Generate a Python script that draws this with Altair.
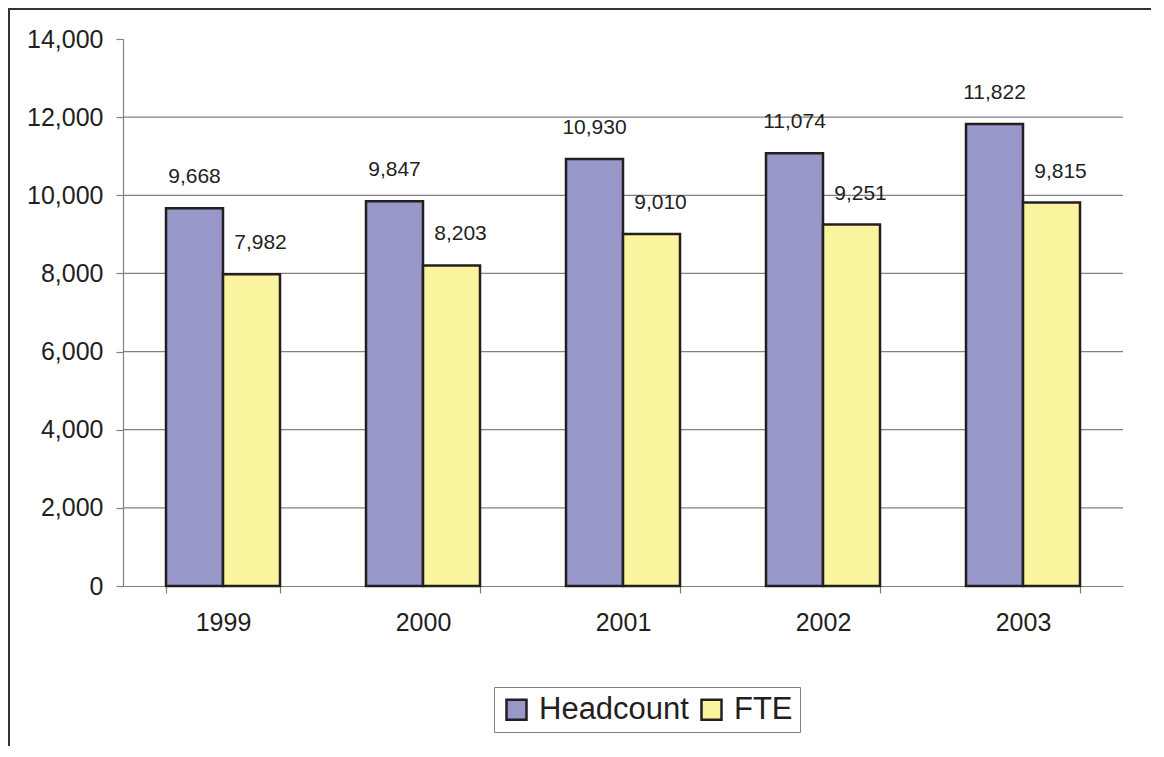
import altair as alt
import pandas as pd

years = ["1999", "2000", "2001", "2002", "2003"]
headcount = [9668, 9847, 10930, 11074, 11822]
fte = [7982, 8203, 9010, 9251, 9815]
series_names = ["Headcount", "FTE"]
series_colors = ["#9797C9", "#FAF49E"]
y_ticks = [0, 2000, 4000, 6000, 8000, 10000, 12000, 14000]
grid_values = [2000, 4000, 6000, 8000, 10000, 12000]

rows = []
for i, y in enumerate(years):
    rows.append({"year": y, "series": "Headcount", "value": headcount[i]})
    rows.append({"year": y, "series": "FTE", "value": fte[i]})
df = pd.DataFrame(rows)

FONT = "Liberation Sans"
INK = "#231F20"

x_enc = alt.X("year:N", sort=years,
              scale=alt.Scale(paddingInner=0.43, paddingOuter=0.215),
              axis=alt.Axis(title=None, tickBand="extent", labelAngle=0,
                            labelFontSize=25, labelFont=FONT, labelColor=INK,
                            labelPadding=17, tickSize=7, tickColor="#808080",
                            domainColor="#808080", domainWidth=1.2, tickWidth=1.2,
                            grid=False))
y_scale = alt.Scale(domain=[0, 14000], nice=False)
xoff = alt.XOffset("series:N", sort=series_names, scale=alt.Scale(paddingInner=0, paddingOuter=0))

base = alt.Chart(df)

grid = alt.Chart(pd.DataFrame({"g": grid_values})).mark_rule(
    color="#808080", strokeWidth=1.2
).encode(y=alt.Y("g:Q", scale=y_scale))

bars = base.mark_bar(stroke=INK, strokeWidth=2.5).encode(
    x=x_enc,
    xOffset=xoff,
    y=alt.Y("value:Q", scale=y_scale,
            axis=alt.Axis(title=None, values=y_ticks, format=",d", grid=False,
                          labelFontSize=25, labelFont=FONT, labelColor=INK,
                          labelPadding=13, tickSize=7, tickColor="#808080",
                          domainColor="#808080", domainWidth=1.2, tickWidth=1.2)),
    color=alt.Color("series:N", sort=series_names,
                    scale=alt.Scale(domain=series_names, range=series_colors),
                    legend=alt.Legend(title=None, orient="none", direction="horizontal",
                                      legendX=371, legendY=648,
                                      labelFontSize=31, labelFont=FONT, labelColor=INK,
                                      symbolType="square", symbolSize=400,
                                      symbolStrokeColor=INK, symbolStrokeWidth=2.5,
                                      symbolOpacity=1,
                                      labelOffset=7, columnPadding=7,
                                      strokeColor="#808080", padding=7,
                                      fillColor="white")),
)

labels_h = base.transform_filter(alt.datum.series == "Headcount").mark_text(
    font=FONT, fontSize=21, color=INK, baseline="middle", dy=-31
).encode(x=x_enc, xOffset=xoff, y=alt.Y("value:Q", scale=y_scale),
         text=alt.Text("value:Q", format=",d"))

labels_f = base.transform_filter(alt.datum.series == "FTE").mark_text(
    font=FONT, fontSize=21, color=INK, baseline="middle", dy=-31, dx=9
).encode(x=x_enc, xOffset=xoff, y=alt.Y("value:Q", scale=y_scale),
         text=alt.Text("value:Q", format=",d"))

frame = alt.Chart(pd.DataFrame({"a": [0]})).mark_rect(
    fillOpacity=0, stroke="#333333", strokeWidth=2
).encode(x=alt.value(-114), x2=alt.value(1100), y=alt.value(-30), y2=alt.value(900))

chart = alt.layer(frame, grid, bars, labels_h, labels_f).properties(
    width=1000, height=547,
    autosize=alt.AutoSizeParams(type="none"),
    padding={"left": 115, "top": 31, "right": 28, "bottom": 160},
    background="white",
).configure_view(stroke=None)

chart.save("out.html", embed_options={"renderer": "svg", "actions": False})
